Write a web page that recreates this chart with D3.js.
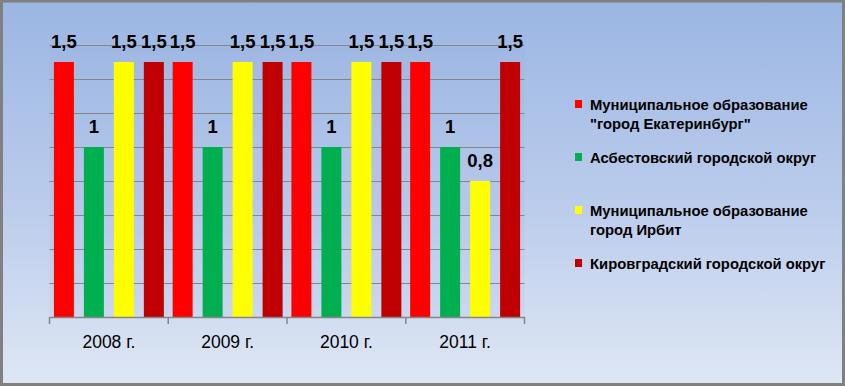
<!DOCTYPE html>
<html>
<head>
<meta charset="utf-8">
<script src="https://cdn.jsdelivr.net/npm/d3@7"></script>
<style>
  html, body { margin: 0; padding: 0; background: #fff; }
  #chart-svg { display: block; }
</style>
</head>
<body>
<svg id="chart-svg" width="845" height="386"></svg>
<script>
const years = ['2008 г.', '2009 г.', '2010 г.', '2011 г.'];
const seriesNames = [
    ['Муниципальное образование', '"город Екатеринбург"'],
    ['Асбестовский городской округ'],
    ['Муниципальное образование', 'город Ирбит'],
    ['Кировградский городской округ']
];
const seriesColors = ['#ff0000', '#00b050', '#ffff00', '#c00000'];
const ekaterinburgValues = [1.5, 1.5, 1.5, 1.5];
const asbestValues = [1, 1, 1, 1];
const irbitValues = [1.5, 1.5, 1.5, 0.8];
const kirovgradValues = [1.5, 1.5, 1.5, 1.5];
const seriesValues = [ekaterinburgValues, asbestValues, irbitValues, kirovgradValues];
const yTicks = [0, 0.2, 0.4, 0.6, 0.8, 1, 1.2, 1.4, 1.6];
const legendRows = [104, 157, 210, 263];

const fmt = v => String(v).replace('.', ',');

const svg = d3.select('#chart-svg');
const W = 845, H = 386;
const plot = {left: 49.5, right: 524.5, top: 45, bottom: 317};
const fontFamily = 'Liberation Sans, Arial, sans-serif';

// background gradient and border
const defs = svg.append('defs');
const grad = defs.append('linearGradient')
      .attr('id', 'bg-grad')
      .attr('x1', 0).attr('y1', 0).attr('x2', 0).attr('y2', 1);
grad.append('stop').attr('offset', '0%').attr('stop-color', '#9bb6e3');
grad.append('stop').attr('offset', '55%').attr('stop-color', '#bccdec');
grad.append('stop').attr('offset', '100%').attr('stop-color', '#dfe7f4');

svg.append('rect')
    .attr('x', 0).attr('y', 0).attr('width', W).attr('height', H)
    .attr('fill', 'url(#bg-grad)');
svg.append('rect')
    .attr('x', 1.5).attr('y', 1).attr('width', W - 3).attr('height', H - 2.5)
    .attr('fill', 'none').attr('stroke', '#808080').attr('stroke-width', 3);

// plot area tint
svg.append('rect')
    .attr('x', plot.left).attr('y', plot.top)
    .attr('width', plot.right - plot.left).attr('height', plot.bottom - plot.top)
    .attr('fill', '#7f9ed6').attr('fill-opacity', 0.07);

const x0 = d3.scaleBand()
      .domain(years)
      .range([plot.left, plot.right])
      .padding(0);
const groupPad = 4.4;
const x1 = d3.scaleBand()
      .domain(d3.range(seriesValues.length))
      .range([groupPad, x0.bandwidth() - groupPad])
      .paddingInner(1 / 3)
      .paddingOuter(0);
const y = d3.scaleLinear()
      .domain([0, 1.6])
      .range([plot.bottom, plot.top]);

// gridlines
svg.append('g')
    .selectAll('line')
    .data(yTicks.slice(1))
    .enter()
    .append('line')
    .attr('x1', plot.left).attr('x2', plot.right)
    .attr('y1', d => Math.round(y(d)) + 0.5)
    .attr('y2', d => Math.round(y(d)) + 0.5)
    .attr('stroke', '#868686')
    .attr('stroke-width', 1);

// bars
const groups = svg.append('g')
      .selectAll('g')
      .data(years)
      .enter()
      .append('g')
      .attr('transform', d => `translate(${x0(d)},0)`);

groups.selectAll('rect')
    .data((d, i) => seriesValues.map((vals, s) => ({s, v: vals[i]})))
    .enter()
    .append('rect')
    .attr('x', d => x1(d.s))
    .attr('y', d => y(d.v))
    .attr('width', x1.bandwidth())
    .attr('height', d => plot.bottom - y(d.v))
    .attr('fill', d => seriesColors[d.s]);

groups.selectAll('text')
    .data((d, i) => seriesValues.map((vals, s) => ({s, v: vals[i]})))
    .enter()
    .append('text')
    .attr('x', d => x1(d.s) + x1.bandwidth() / 2)
    .attr('y', d => y(d.v) - 14)
    .attr('text-anchor', 'middle')
    .attr('font-family', fontFamily)
    .attr('font-weight', 'bold')
    .attr('font-size', 18.5)
    .attr('fill', '#000')
    .text(d => fmt(d.v));

// x axis
const xAxis = svg.append('g')
      .attr('transform', `translate(0,${plot.bottom})`)
      .call(d3.axisBottom(x0).tickSize(0).tickPadding(19));
xAxis.select('.domain').attr('stroke', '#868686').attr('stroke-width', 1.5);
xAxis.selectAll('text')
    .attr('font-family', fontFamily)
    .attr('font-size', 17.5)
    .attr('fill', '#000');
xAxis.selectAll('.sep')
    .data(d3.range(years.length + 1))
    .enter()
    .append('line')
    .attr('class', 'sep')
    .attr('x1', i => plot.left + i * x0.step())
    .attr('x2', i => plot.left + i * x0.step())
    .attr('y1', 0).attr('y2', 7)
    .attr('stroke', '#868686').attr('stroke-width', 1.5);

// legend
const legend = svg.append('g');
seriesNames.forEach((lines, s) => {
    const cy = legendRows[s];
    legend.append('rect')
        .attr('x', 575).attr('y', cy - 4)
        .attr('width', 7).attr('height', 8)
        .attr('fill', seriesColors[s]);
    const t = legend.append('text')
          .attr('x', 590).attr('y', cy + 5.5)
          .attr('font-family', fontFamily)
          .attr('font-weight', 'bold')
          .attr('font-size', 14.8)
          .attr('fill', '#000');
    lines.forEach((line, k) => {
        t.append('tspan').attr('x', 590).attr('dy', k === 0 ? 0 : 19).text(line);
    });
});
</script>
</body>
</html>
